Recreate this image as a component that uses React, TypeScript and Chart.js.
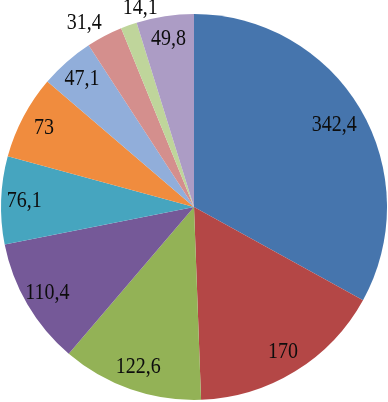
import React, { useEffect, useRef } from "react";
import { Chart, registerables } from "chart.js";

Chart.register(...registerables);

const categories = ["A", "B", "C", "D", "E", "F", "G", "H", "I", "J"];
const values = [342.4, 170, 122.6, 110.4, 76.1, 73, 47.1, 31.4, 14.1, 49.8];
const colors = [
  "#4675AD",
  "#B44746",
  "#93B256",
  "#755998",
  "#46A5BF",
  "#F08C3E",
  "#91AEDA",
  "#D48F8D",
  "#BFD59B",
  "#AC9CC5",
];

const fmt = (v: number) => String(v).replace(".", ",");

const sliceLabels = {
  id: "sliceLabels",
  afterDatasetsDraw(chart: any, _args: any, opts: any) {
    const ctx = chart.ctx;
    const meta = chart.getDatasetMeta(0);
    const data = chart.data.datasets[0].data as number[];
    ctx.save();
    ctx.font = opts.font;
    ctx.fillStyle = opts.color;
    ctx.textAlign = "center";
    ctx.textBaseline = "middle";
    meta.data.forEach((arc: any, i: number) => {
      const p = arc.getProps(["x", "y", "startAngle", "endAngle", "outerRadius"], true);
      const mid = (p.startAngle + p.endAngle) / 2;
      const span = p.endAngle - p.startAngle;
      const text = fmt(data[i]);
      const w = ctx.measureText(text).width;
      const h = 16;
      const cos = Math.cos(mid);
      const sin = Math.sin(mid);
      let cx: number, cy: number;
      if (span < opts.outsideBelow) {
        const r = p.outerRadius + opts.outsideGap;
        cx = p.x + r * cos + Math.sign(cos) * w / 2;
        cy = p.y + r * sin + Math.sign(sin) * h / 2;
      } else {
        const r = p.outerRadius * opts.insideFactor;
        cx = p.x + r * cos;
        cy = p.y + r * sin;
      }
      const n = (opts.nudge && opts.nudge[i]) || [0, 0];
      cx += n[0];
      cy += n[1];
      ctx.save();
      ctx.translate(cx, cy);
      ctx.scale(1, opts.stretch);
      ctx.fillText(text, 0, 0);
      ctx.restore();
    });
    ctx.restore();
  },
};

export default function App() {
  const ref = useRef<HTMLCanvasElement | null>(null);
  useEffect(() => {
    document.body.style.margin = "0";
    const chart = new Chart(ref.current as HTMLCanvasElement, {
      type: "pie",
      data: {
        labels: categories,
        datasets: [
          {
            data: values,
            backgroundColor: colors,
            borderWidth: 0,
          },
        ],
      },
      options: {
        animation: false,
        responsive: false,
        maintainAspectRatio: false,
        layout: { padding: { left: 1, right: 1, top: 14, bottom: 2 } },
        plugins: {
          legend: { display: false },
          tooltip: { enabled: false },
          sliceLabels: {
            font: "20px 'Liberation Serif', 'Times New Roman', serif",
            color: "#0d0d0d",
            stretch: 1.15,
            insideFactor: 0.88,
            outsideBelow: (14 * Math.PI) / 180,
            outsideGap: 6,
            nudge: { 0: [-6, 4], 8: [31, -4] },
          },
        } as any,
      },
      plugins: [sliceLabels as any],
    });
    return () => chart.destroy();
  }, []);
  return (
    <div style={{ position: "fixed", left: 0, top: 0, width: 388, height: 402 }}>
      <canvas ref={ref} width={388} height={402} style={{ width: 388, height: 402 }} />
    </div>
  );
}
